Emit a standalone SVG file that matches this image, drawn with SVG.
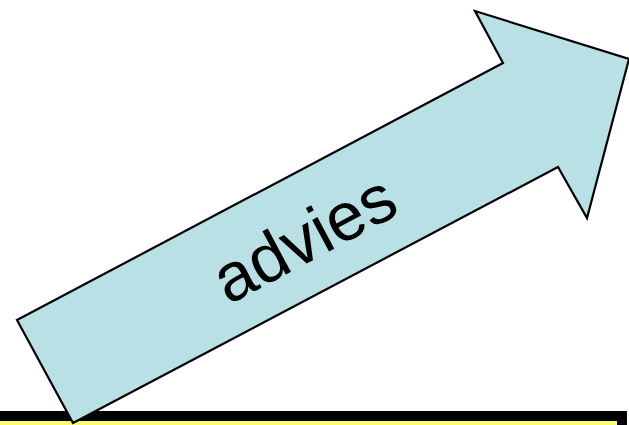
<svg xmlns="http://www.w3.org/2000/svg" width="629" height="425" viewBox="0 0 629 425">
<style>
.box{fill:#ffff66;stroke:#000;stroke-width:10}
.arrow{fill:#b9e0e4;stroke:#000;stroke-width:2.2;stroke-linejoin:miter}
.lbl{font-family:"Liberation Sans",Arial,sans-serif;font-size:68px;fill:#000}
</style>
<rect width="629" height="425" fill="#fff"/>
<g id="box">
<rect class="box" x="-20" y="416" width="642" height="40"/>
</g>
<g id="connectors">
<g id="advies-arrow">
<polygon class="arrow" points="17,320 503,63 475,11 629,59 587,218 558,167 73,423"/>
<text class="lbl" x="0" y="0" text-anchor="middle" transform="translate(315,259) rotate(-28)">advies</text>
</g>
</g>
</svg>
